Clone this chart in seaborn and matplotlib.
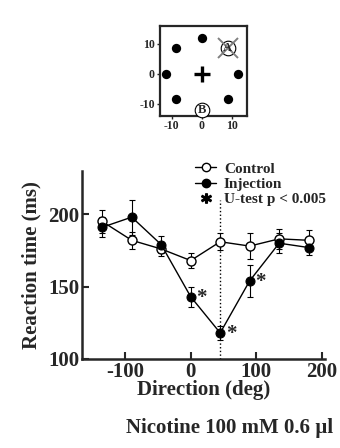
import numpy as np
import pandas as pd
import matplotlib
matplotlib.use("Agg")
import matplotlib.pyplot as plt
import seaborn as sns
from matplotlib.lines import Line2D

# ---- data ----
directions = [-135, -90, -45, 0, 45, 90, 135, 180]
control_rt = [195, 182, 176, 168, 181, 178, 183, 182]
control_err = [8, 6, 5, 5, 6, 9, 7, 7]
injection_rt = [191, 198, 179, 143, 118, 154, 180, 177]
injection_err = [7, 12, 6, 7, 5, 11, 7, 5]
signif_dirs = [0, 45, 90]

target_x = [12, 8.5, 0, -8.5, -12, -8.5, 0, 8.5]
target_y = [0, 8.5, 12, 8.5, 0, -8.5, -12, -8.5]
inset_ticks = [-10, 0, 10]
x_ticks = [-100, 0, 100, 200]
y_ticks = [100, 150, 200]

sns.set_style("ticks")
plt.rcParams['font.family'] = ['Liberation Serif', 'DejaVu Serif']
plt.rcParams['font.weight'] = 'bold'
plt.rcParams['axes.unicode_minus'] = False

fig = plt.figure(figsize=(3.4, 4.48), dpi=100)

# ---- main axes ----
ax = fig.add_axes([0.241, 0.1987, 0.715, 0.42])
df = pd.DataFrame({
    "direction": directions * 2,
    "rt": control_rt + injection_rt,
    "group": ["Control"] * len(directions) + ["Injection"] * len(directions),
})
sns.lineplot(data=df[df.group == "Control"], x="direction", y="rt", ax=ax,
             color="black", lw=1.0, marker="o", markersize=6.5,
             markerfacecolor="white", markeredgecolor="black", markeredgewidth=1.0,
             zorder=3, legend=False)
sns.lineplot(data=df[df.group == "Injection"], x="direction", y="rt", ax=ax,
             color="black", lw=1.0, marker="o", markersize=6.5,
             markerfacecolor="black", markeredgecolor="black",
             zorder=4, legend=False)
ax.errorbar(directions, control_rt, yerr=control_err, fmt="none",
            ecolor="black", elinewidth=0.8, capsize=2.5, capthick=0.8, zorder=2)
ax.errorbar(directions, injection_rt, yerr=injection_err, fmt="none",
            ecolor="black", elinewidth=0.8, capsize=2.5, capthick=0.8, zorder=2)

for d in signif_dirs:
    i = directions.index(d)
    ax.text(d + 9, injection_rt[i] - 1, "*", fontsize=15, fontweight="bold",
            ha="left", va="center")

ax.plot([45, 45], [100, 210], ls=":", color="black", lw=1.0, zorder=1)

ax.set_xlim(-166, 205)
ax.set_ylim(100, 230)
ax.set_xticks(x_ticks)
ax.set_yticks(y_ticks)
ax.tick_params(direction="in", length=5, width=1.5, labelsize=15, pad=2)
for lab in ax.get_xticklabels() + ax.get_yticklabels():
    lab.set_fontweight("bold")
sns.despine(ax=ax)
for s in ["left", "bottom"]:
    ax.spines[s].set_linewidth(1.8)
ax.set_xlabel("Direction (deg)", fontsize=15, fontweight="bold", labelpad=-1)
ax.set_ylabel("Reaction time (ms)", fontsize=15, fontweight="bold", labelpad=5)

handles = [
    Line2D([], [], color="black", lw=1.0, marker="o", markersize=6,
           markerfacecolor="white", markeredgecolor="black"),
    Line2D([], [], color="black", lw=1.0, marker="o", markersize=6,
           markerfacecolor="black"),
    Line2D([], [], color="black", lw=0, marker="$*$", markersize=7),
]
ax.legend(handles, ["Control", "Injection", "U-test p < 0.005"],
          loc="upper left", bbox_to_anchor=(0.555, 0.652),
          bbox_transform=fig.transFigure, frameon=False,
          prop={"weight": "bold", "size": 11}, handlelength=1.4,
          handletextpad=0.5, labelspacing=0.1, borderaxespad=0)

fig.text(0.675, 0.045, "Nicotine 100 mM 0.6 \u00b5l", fontsize=15,
         fontweight="bold", ha="center", va="center")

# ---- inset ----
ax2 = fig.add_axes([0.47, 0.742, 0.257, 0.200])
sns.scatterplot(x=[v for i, v in enumerate(target_x) if i not in (1, 6)],
                y=[v for i, v in enumerate(target_y) if i not in (1, 6)],
                ax=ax2, color="black", s=45, edgecolor="black", linewidth=0,
                legend=False)
ax2.plot([0], [0], marker="+", markersize=12, markeredgewidth=2.4, color="black")
ax2.plot([target_x[1]], [target_y[1]], marker="o", markersize=10.5,
         markerfacecolor="white", markeredgecolor="black", markeredgewidth=0.8, ls="none")
ax2.plot([target_x[1]], [target_y[1]], marker="x", markersize=14,
         markeredgewidth=1.4, color="gray", ls="none")
ax2.text(target_x[1], target_y[1], "A", fontsize=9, ha="center", va="center",
         fontweight="bold")
ax2.plot([target_x[6]], [target_y[6]], marker="o", markersize=10.5,
         markerfacecolor="white", markeredgecolor="black", markeredgewidth=0.8,
         ls="none", clip_on=False, zorder=5)
ax2.text(target_x[6], target_y[6], "B", fontsize=9, ha="center", va="center",
         fontweight="bold", zorder=6)
ax2.set_xlim(-14, 15)
ax2.set_ylim(-14, 16)
ax2.set_xticks(inset_ticks)
ax2.set_yticks(inset_ticks)
ax2.tick_params(direction="out", length=2, width=1, labelsize=8.5, pad=1.5)
for lab in ax2.get_xticklabels() + ax2.get_yticklabels():
    lab.set_fontweight("bold")
for s in ax2.spines.values():
    s.set_linewidth(1.6)

fig.savefig("out.png", dpi=100)
